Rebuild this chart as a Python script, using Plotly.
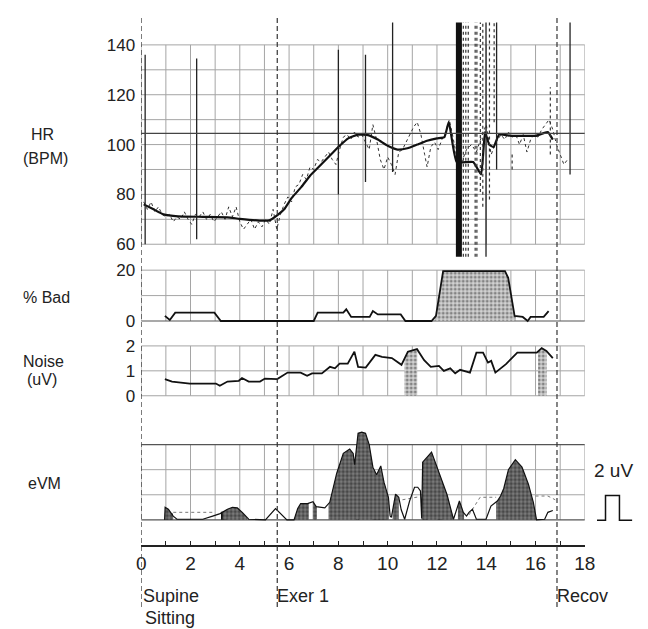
import numpy as np
import plotly.graph_objects as go

# ---------------- data ----------------
hr_t = [0.1,0.5,0.9,1.5,2.5,3.5,4.0,4.8,5.2,5.5,5.8,6.1,6.5,6.85,7.2,7.5,7.8,8.05,8.4,8.8,
        9.2,9.6,10.0,10.4,10.8,11.2,11.6,12.0,12.3,12.48,12.8,13.47,13.79,13.95,14.12,14.3,14.52,
        15.0,15.5,16.0,16.3,16.5,16.7]
hr_v = [76,74,72,71.2,71,70.8,70.2,69.5,69.6,71.5,74,78.5,83,87.5,91,94,97,99.5,102.5,104,
        103.8,102,99.5,98,98.5,100,101.5,102.5,103,109,93,93,88,105,100,99,104,
        103.5,103.5,103.5,104.5,105,102]

raw_t = [0.1,0.25,0.4,0.55,0.7,0.85,1.0,1.15,1.3,1.45,
         1.6,1.75,1.9,2.05,2.2,2.35,2.5,2.65,2.8,2.95,
         3.1,3.25,3.4,3.55,3.7,3.85,4.0,4.15,4.3,4.45,
         4.6,4.75,4.9,5.05,5.2,5.35,5.5,5.65,5.8,5.95,
         6.1,6.25,6.4,6.55,6.7,6.85,7.0,7.15,7.3,7.45,
         7.6,7.75,7.9,8.05,8.2,8.35,8.5,8.65,8.8,8.95,
         9.1,9.25,9.4,9.55,9.7,9.85,10.0,10.15,10.3,10.45,
         10.6,10.75,10.9,11.05,11.2,11.35,11.5,11.6,11.75,11.9,
         12.05,12.2,12.35,12.5,12.65,12.8,13.0,13.2,13.4,13.6,
         13.8,14.0,14.2,14.4,14.6,14.75,14.9,15.05,15.2,15.35,
         15.5,15.65,15.8,15.95,16.1,16.25,16.4,16.55,16.7,16.85,
         17.0,17.15,17.3]
raw_v = [77,74,77,73,75,72,71,72,69,71,
         70,73,70,68,72,71,73,70,72,69,
         71,73,70,75,71,75,69,66,68,70,
         66,69,67,70,68,74,66,72,76,79,
         77,83,84,88,86,91,90,94,93,95,
         97,94,92,98,103,104,102,105,103,104,
         101,98,108,102,94,90,95,92,88,97,
         98,101,104,107,109,104,96,91,99,101,
         98,102,105,110,103,95,93,98,100,97,
         103,108,96,101,104,102,105,103,104,100,
         104,97,102,104,103,106,108,110,106,100,
         96,92,94]

hr_ref = 104.5

# artifact spikes in HR trace
spike_solid_t = [0.16, 2.25, 8.0, 9.1, 10.2, 17.4, 13.99, 14.42]
spike_solid_lo = [60, 62, 80, 85, 89, 88, 55, 90]
spike_solid_hi = [136, 134.5, 138, 136, 149, 149, 149, 149]
spike_dot_t = [13.07, 13.17, 13.27, 13.55, 13.62, 13.76, 13.86, 14.13, 14.32, 16.6, 15.05]
spike_dot_lo = [55, 55, 55, 55, 55, 81, 75, 78, 109, 96, 90]
spike_dot_hi = [149, 149, 149, 149, 149, 149, 149, 149, 149, 123, 97]
band_t = [12.89]
band_lo = [55]
band_hi = [149]

bad_t = [0.96,1.16,1.38,2.97,3.23,7.0,7.16,8.2,8.32,8.52,9.27,9.4,9.6,10.53,10.72,
         11.78,11.96,12.25,14.76,14.89,15.15,15.48,15.68,15.8,16.33,16.53]
bad_v = [2,0.4,3.3,3.3,0,0,3.3,3.3,4.6,1.6,1.6,3.9,2.6,2.6,0,
         0,2,19.6,19.6,17,2,1.6,0,1.6,1.6,3.9]
bad_fill = [(11.9, 15.2)]

noise_t = [0.96,1.25,1.97,3.03,3.19,3.5,3.96,4.09,4.36,4.82,5.02,5.52,5.94,6.47,6.73,6.93,
           7.33,7.66,7.86,8.05,8.38,8.65,8.8,9.11,9.5,9.77,10.17,10.56,10.82,11.19,11.48,
           11.75,12.08,12.28,12.54,12.74,12.94,13.34,13.6,13.87,14.07,14.2,14.37,14.8,
           15.26,16.05,16.25,16.44,16.7]
noise_v = [0.67,0.57,0.49,0.49,0.4,0.57,0.6,0.71,0.57,0.57,0.69,0.67,0.93,0.93,0.8,0.9,
           0.9,1.16,1.1,1.29,1.29,1.77,1.16,1.13,1.64,1.56,1.51,1.24,1.77,1.87,1.43,
           1.16,1.2,1.0,1.1,0.9,1.04,0.93,1.73,1.73,1.33,1.4,0.93,1.27,
           1.73,1.73,1.91,1.8,1.51]
noise_fill = [(10.68, 11.2), (16.1, 16.45)]

evm_t = [0.95,0.97,1.1,1.3,1.45,2.5,2.9,3.2,3.5,3.7,3.9,4.1,4.36,5.04,5.45,5.91,6.2,6.35,
         6.47,6.75,6.97,7.1,7.45,7.65,7.93,8.2,8.46,8.6,8.66,8.8,8.95,9.1,9.25,9.4,9.55,
         9.72,9.85,10.03,10.1,10.15,10.32,10.45,10.55,10.69,10.89,11.09,11.22,11.33,11.38,
         11.42,11.78,12.08,12.41,12.67,12.75,12.91,13.07,13.2,13.3,13.44,13.6,13.99,14.19,
         14.45,14.58,14.71,14.9,15.18,15.45,15.71,15.91,16.04,16.37,16.5,16.7]
evm_v = [0.0,1.0,0.85,0.3,0.05,0.05,0.3,0.5,0.85,1.0,0.95,0.6,0.05,0.0,0.9,0.0,0.0,0.9,
         1.3,1.3,1.45,1.05,0.95,1.4,3.7,5.3,5.65,5.3,4.4,6.9,7.0,6.9,6.0,4.2,3.6,
         4.3,3.0,1.8,0.3,0.2,2.05,1.8,0.8,0.05,1.5,2.6,2.6,2.3,0.1,
         4.6,5.4,3.8,2.0,0.05,0.5,1.5,0.6,0.3,0.6,0.85,0.05,0.05,1.1,
         1.5,1.9,2.5,4.0,4.8,4.2,2.85,1.4,0.0,0.05,0.6,0.75]
evm_fill = [(0.96, 1.3), (3.3, 4.3), (6.2, 6.8), (6.96, 7.13), (7.6, 10.05),
            (10.2, 10.45), (11.38, 12.67), (12.85, 13.1), (14.4, 16.04)]
evm_dot_t = [1.3, 3.0, None, 10.6, 11.3, None, 13.3, 13.75, 14.4, None, 16.0, 16.5, 16.8]
evm_dot_v = [0.6, 0.6, None, 1.6, 1.85, None, 0.4, 1.8, 1.8, None, 1.9, 1.9, 1.6]
blk_start = [0.96, 3.24, 8.71, 9.38, 11.42, 12.02]
blk_end = [1.28, 3.46, 8.84, 9.95, 11.62, 12.22]
blk_h = [0.5, 0.65, 0.45, 0.45, 0.4, 0.5]

phase_t = [0, 5.52, 16.87]
x_ticks = list(range(0, 19))

# ---------------- layout helpers ----------------
# page body has an 8px margin; figure is sized to fit inside the window
OFF = 8
W, H = 648 - OFF, 629 - OFF
X0PX, X18PX = 139.5, 594.5
FONT = "Liberation Sans, Arial, sans-serif"


def px(x):
    return (x - OFF) / W


def py(y):
    return 1 - (y - OFF) / H


def axis_spec(p_top, p_bot, v1, p1, v2, p2):
    scale = (p1 - p2) / (v2 - v1)
    lo = v1 - (p_bot - p1) / scale
    hi = v1 + (p1 - p_top) / scale
    return [py(p_bot), py(p_top)], [lo, hi]


hr_dom, hr_rng = axis_spec(13, 260, 60, 243, 140, 43)
bad_dom, bad_rng = axis_spec(262, 330, 0, 320, 20, 269)
noi_dom, noi_rng = axis_spec(337, 405, 0, 395, 2, 345)
evm_dom, evm_rng = axis_spec(425, 545, 0, 519.5, 6, 444)


def segment(t, v, a, b):
    t = np.asarray(t, float)
    v = np.asarray(v, float)
    mask = (t > a) & (t < b)
    xs = [a] + list(t[mask]) + [b]
    ys = [np.interp(a, t, v)] + list(v[mask]) + [np.interp(b, t, v)]
    return xs, ys


def seglines(ts, los, his):
    xs, ys = [], []
    for t, lo, hi in zip(ts, los, his):
        xs += [t, t, None]
        ys += [lo, hi, None]
    return xs, ys


fig = go.Figure()

# ---- HR panel ----
fig.add_trace(go.Scatter(x=raw_t, y=raw_v, mode="lines", yaxis="y",
                         line=dict(color="#333", width=1, dash="dot")))
fig.add_trace(go.Scatter(x=hr_t, y=hr_v, mode="lines", yaxis="y",
                         line=dict(color="#111", width=2.2, shape="spline", smoothing=0.4)))
sx, sy = seglines(spike_solid_t, spike_solid_lo, spike_solid_hi)
fig.add_trace(go.Scatter(x=sx, y=sy, mode="lines", yaxis="y",
                         line=dict(color="#222", width=1.3)))
sx, sy = seglines(spike_dot_t, spike_dot_lo, spike_dot_hi)
fig.add_trace(go.Scatter(x=sx, y=sy, mode="lines", yaxis="y",
                         line=dict(color="#333", width=1.2, dash="dot")))
sx, sy = seglines(band_t, band_lo, band_hi)
fig.add_trace(go.Scatter(x=sx, y=sy, mode="lines", yaxis="y",
                         line=dict(color="#111", width=6)))

light_pat = dict(shape=".", size=4, solidity=0.45, fgcolor="#333", bgcolor="#d2d2d2")
dark_pat = dict(shape=".", size=4, solidity=0.55, fgcolor="#111", bgcolor="#7e7e7e")

# ---- %Bad panel ----
for a, b in bad_fill:
    xs, ys = segment(bad_t, bad_v, a, b)
    fig.add_trace(go.Scatter(x=xs, y=ys, mode="lines", yaxis="y2", fill="tozeroy",
                             line=dict(width=0), fillpattern=light_pat))
fig.add_trace(go.Scatter(x=bad_t, y=bad_v, mode="lines", yaxis="y2",
                         line=dict(color="#111", width=1.8)))

# ---- Noise panel ----
for a, b in noise_fill:
    xs, ys = segment(noise_t, noise_v, a, b)
    fig.add_trace(go.Scatter(x=xs, y=ys, mode="lines", yaxis="y3", fill="tozeroy",
                             line=dict(width=0), fillpattern=light_pat))
fig.add_trace(go.Scatter(x=noise_t, y=noise_v, mode="lines", yaxis="y3",
                         line=dict(color="#111", width=1.8)))

# ---- eVM panel ----
for a, b in evm_fill:
    xs, ys = segment(evm_t, evm_v, a, b)
    fig.add_trace(go.Scatter(x=xs, y=ys, mode="lines", yaxis="y4", fill="tozeroy",
                             line=dict(width=0), fillpattern=dark_pat))
fig.add_trace(go.Scatter(x=evm_dot_t, y=evm_dot_v, mode="lines", yaxis="y4",
                         line=dict(color="#777", width=1, dash="dot")))
fig.add_trace(go.Scatter(x=evm_t, y=evm_v, mode="lines", yaxis="y4",
                         line=dict(color="#111", width=1.2)))
fig.add_trace(go.Bar(x=[(s + e) / 2 for s, e in zip(blk_start, blk_end)],
                     y=blk_h, width=[e - s for s, e in zip(blk_start, blk_end)],
                     base=0, yaxis="y4", marker=dict(color="#000", line=dict(width=0))))

# ---------------- grid shapes ----------------
shapes = []
GRID = "#a5a5a5"
panels = [("y", 60, 140, list(range(60, 141, 10))),
          ("y2", 0, 20, [0, 10, 20]),
          ("y3", 0, 2, [0, 1, 2]),
          ("y4", 0, 6, [0, 2, 4, 6])]
for yref, lo, hi, hl in panels:
    for xv in x_ticks:
        shapes.append(dict(type="line", xref="x", yref=yref, x0=xv, x1=xv, y0=lo, y1=hi,
                           line=dict(color=GRID, width=1), layer="below"))
    for yv in hl:
        dark = (yref == "y4" and yv in (0, 6)) or (yref == "y2" and yv == 0)
        shapes.append(dict(type="line", xref="x", yref=yref, x0=0, x1=18, y0=yv, y1=yv,
                           line=dict(color="#555" if dark else GRID, width=1.2 if dark else 1),
                           layer="below"))
shapes.append(dict(type="line", xref="x", yref="y", x0=0, x1=18, y0=hr_ref, y1=hr_ref,
                   line=dict(color="#444", width=1.2)))
for t in phase_t:
    shapes.append(dict(type="line", xref="x", yref="paper", x0=t, x1=t, y0=py(607), y1=py(13),
                       line=dict(color="#333", width=1.2, dash="5px,3px")))
# 2 uV calibration pulse
path = "M {} {} L {} {} L {} {} L {} {} L {} {} L {} {}".format(
    px(607), py(520), px(615.7), py(520), px(615.7), py(495),
    px(630), py(495), px(630), py(520), px(643), py(520))
shapes.append(dict(type="path", xref="paper", yref="paper", path=path,
                   line=dict(color="#111", width=1.5)))

# ---------------- annotations ----------------
ann = []


def label(text, x, y, size=16, xanchor="center"):
    ann.append(dict(text=text, x=px(x), y=py(y), xref="paper", yref="paper",
                    showarrow=False, xanchor=xanchor, yanchor="middle",
                    font=dict(family=FONT, size=size, color="#222")))


label("HR", 38, 133)
label("(BPM)", 41, 157)
label("% Bad", 42, 296)
label("Noise", 39, 361)
label("(uV)", 38, 379)
label("eVM", 40, 483)
label("Supine", 139, 596, 18, "left")
label("Sitting", 141, 618, 18, "left")
label("Exer 1", 277, 596, 18, "left")
label("Recov", 564, 596, 18, "left")
label("2 uV", 602, 470, 19, "left")

yax_common = dict(showgrid=False, zeroline=False, showline=False, ticks="",
                  ticklabelstandoff=5, anchor="x",
                  tickfont=dict(family=FONT, size=17, color="#222"))

fig.update_layout(
    width=W, height=H, margin=dict(l=0, r=0, t=0, b=0),
    paper_bgcolor="white", plot_bgcolor="rgba(0,0,0,0)", showlegend=False,
    xaxis=dict(domain=[px(X0PX), px(X18PX)], range=[0, 18], anchor="y4",
               tickvals=x_ticks, ticktext=[str(v) if v % 2 == 0 else "" for v in x_ticks],
               ticks="inside", ticklen=5, tickcolor="#222", tickwidth=1.2,
               showline=True, linecolor="#222", linewidth=1.5,
               showgrid=False, zeroline=False,
               tickfont=dict(family=FONT, size=19, color="#222")),
    yaxis=dict(domain=hr_dom, range=hr_rng, tickvals=[60, 80, 100, 120, 140], **yax_common),
    yaxis2=dict(domain=bad_dom, range=bad_rng, tickvals=[0, 20], **yax_common),
    yaxis3=dict(domain=noi_dom, range=noi_rng, tickvals=[0, 1, 2], **yax_common),
    yaxis4=dict(domain=evm_dom, range=evm_rng, showticklabels=False, showgrid=False,
                zeroline=False, showline=False, anchor="x"),
    shapes=shapes, annotations=ann,
)

fig.write_html("out.html")
